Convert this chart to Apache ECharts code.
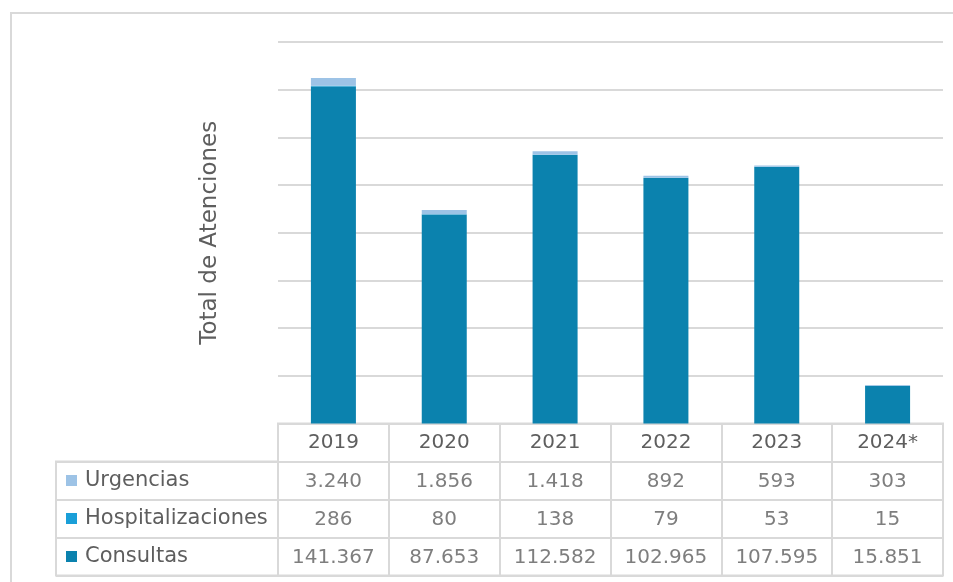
<!DOCTYPE html>
<html>
<head>
<meta charset="utf-8">
<script src="https://cdn.jsdelivr.net/npm/echarts@6/dist/echarts.min.js"></script>
<style>
  html, body { margin: 0; padding: 0; background: #ffffff; }
  #chart { width: 953px; height: 582px; }
</style>
</head>
<body>
<div id="chart"></div>
<script>
// Yearly totals of attentions, by type
const years = ['2019', '2020', '2021', '2022', '2023', '2024*'];
const urgencias = [3240, 1856, 1418, 892, 593, 303];
const hospitalizaciones = [286, 80, 138, 79, 53, 15];
const consultas = [141367, 87653, 112582, 102965, 107595, 15851];
const rowNames = ['Urgencias', 'Hospitalizaciones', 'Consultas'];
const axisTitle = 'Total de Atenciones';

const valueMin = 0;
const valueMax = 160000;
const valueStep = 20000;

const COLORS = {
  Urgencias: '#9dc3e6',
  Hospitalizaciones: '#1a9fd8',
  Consultas: '#0b82ae'
};
const TEXT = '#5e5e5e';
const LINE = '#d9d9d9';
const FONT = '"DejaVu Sans", sans-serif';
const FS_NUM = 20;   // numbers and years in the table
const FS_LABEL = 21; // row names

// thousands separator with a dot
const fmt = n => String(n).replace(/\B(?=(\d{3})+(?!\d))/g, '.');

// table cells: [column, row, value]; row 0 is the year header
const rowValues = [urgencias, hospitalizaciones, consultas];
const tableCells = [];
rowValues.forEach((vals, r) => {
  vals.forEach((v, c) => tableCells.push([c, r + 1, v]));
});

const chart = echarts.init(document.getElementById('chart'), null, { renderer: 'canvas' });

const splitStyle = { show: true, lineStyle: { color: LINE, width: 2 } };

chart.setOption({
  animation: false,
  textStyle: { fontFamily: FONT },
  graphic: [{
    type: 'rect',
    shape: { x: 11, y: 13, width: 960, height: 620 },
    style: { fill: null, stroke: LINE, lineWidth: 2 },
    silent: true
  }],
  legend: {
    data: rowNames,
    orient: 'vertical',
    left: 61,
    top: 464.5,
    icon: 'rect',
    itemWidth: 11,
    itemHeight: 11,
    itemGap: 16,
    selectedMode: false,
    textStyle: { color: TEXT, fontSize: FS_LABEL, lineHeight: 22, fontFamily: FONT, padding: [0, 0, 0, 3] }
  },
  grid: [
    { left: 278, top: 42, width: 665, height: 381.5 },
    { left: 278, top: 423.5, width: 665, height: 152, show: true, borderColor: LINE, borderWidth: 2, backgroundColor: 'transparent' },
    { left: 56, top: 461.5, width: 222, height: 114, show: true, borderColor: LINE, borderWidth: 2, backgroundColor: 'transparent' }
  ],
  xAxis: [
    {
      gridIndex: 0, type: 'category', data: years,
      axisLine: { show: false }, axisTick: { show: false },
      axisLabel: { color: TEXT, fontSize: FS_NUM, fontFamily: FONT, margin: 9 }
    },
    {
      gridIndex: 1, type: 'category', data: years,
      axisLine: { show: false }, axisTick: { show: false }, axisLabel: { show: false },
      splitLine: splitStyle
    },
    { gridIndex: 2, type: 'value', show: false }
  ],
  yAxis: [
    {
      gridIndex: 0, type: 'value', min: valueMin, max: valueMax, interval: valueStep,
      axisLine: { show: false }, axisTick: { show: false }, axisLabel: { show: false },
      splitLine: splitStyle,
      name: axisTitle, nameLocation: 'middle', nameRotate: 90, nameGap: 56,
      nameTextStyle: { color: TEXT, fontSize: 23, fontFamily: FONT }
    },
    {
      gridIndex: 1, type: 'category', inverse: true, data: [''].concat(rowNames),
      axisLine: { show: false }, axisTick: { show: false }, axisLabel: { show: false },
      splitLine: splitStyle
    },
    {
      gridIndex: 2, type: 'category', inverse: true, data: rowNames,
      axisLine: { show: false }, axisTick: { show: false }, axisLabel: { show: false },
      splitLine: splitStyle
    }
  ],
  series: [
    {
      name: 'Consultas', type: 'bar', stack: 'total', barWidth: 45,
      xAxisIndex: 0, yAxisIndex: 0,
      itemStyle: { color: COLORS.Consultas }, data: consultas
    },
    {
      name: 'Hospitalizaciones', type: 'bar', stack: 'total', barWidth: 45,
      xAxisIndex: 0, yAxisIndex: 0,
      itemStyle: { color: COLORS.Hospitalizaciones }, data: hospitalizaciones
    },
    {
      name: 'Urgencias', type: 'bar', stack: 'total', barWidth: 45,
      xAxisIndex: 0, yAxisIndex: 0,
      itemStyle: { color: COLORS.Urgencias }, data: urgencias
    },
    {
      name: 'tabla', type: 'scatter', xAxisIndex: 1, yAxisIndex: 1,
      symbolSize: 0, silent: true,
      label: {
        show: true, position: 'inside', color: TEXT, fontSize: FS_NUM, fontFamily: FONT,
        offset: [0, 1],
        formatter: p => fmt(p.value[2])
      },
      data: tableCells
    }
  ]
});
</script>
</body>
</html>
